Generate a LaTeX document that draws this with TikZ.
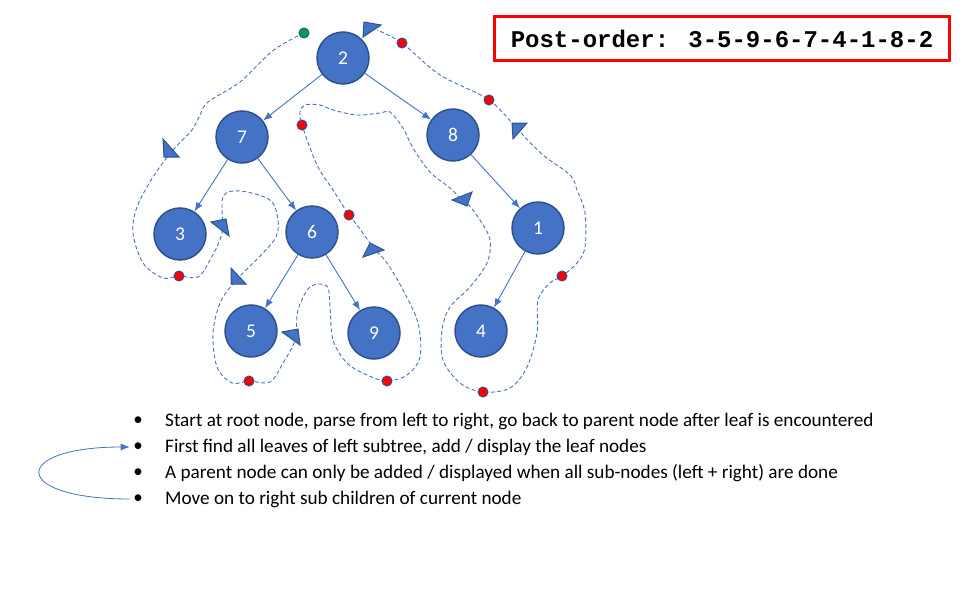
\documentclass[tikz,border=0pt]{standalone}
\usepackage{fontspec}
\setmainfont{Carlito}
\newfontfamily\monofont{Liberation Mono}
\usepackage{tikz}
\usetikzlibrary{arrows.meta}
\definecolor{nodeblue}{HTML}{4472C4}
\definecolor{nodeedge}{HTML}{2F528F}
\definecolor{startgreen}{HTML}{00A050}

\begin{document}
\begin{tikzpicture}[x=1pt,y=-1pt,>={Latex[length=9pt,width=7pt]},
  tnode/.style={circle,fill=nodeblue,draw=nodeedge,line width=1.5pt,minimum size=52pt,inner sep=0pt,text=white,font=\fontsize{19.5}{21}\selectfont},
  edge/.style={->,nodeblue,line width=0.9pt},
  trail/.style={nodeblue,line width=0.9pt,dash pattern=on 4pt off 2.5pt},
  dot/.style={circle,fill=red,draw=nodeedge,line width=1pt,minimum size=10pt,inner sep=0pt},
  marker/.style={fill=nodeblue,draw=nodeedge,line width=1pt,line join=miter},
  bullet/.style={font=\fontsize{19}{22}\selectfont},
  item/.style={anchor=west,inner sep=2pt,font=\fontsize{19.2}{22}\selectfont}]
  \useasboundingbox (0,0) rectangle (976,591);
  % traversal path
  \draw[trail] plot[smooth,tension=0.55] coordinates {(304,33) (290,40) (270,53) (240,82) (208,102) (200,115) (192,130) (173,150) (153,177) (137,207) (133,233) (143,263) (163,278) (179,276) (198,277) (210,260) (222,233) (223,197) (240,191) (270,200) (278,220) (276,237) (263,253) (243,273) (232,285) (220,303) (213,333) (217,367) (232,383) (249,381) (270,382) (283,363) (295,340) (298,310) (310,287) (327,286) (330,307) (333,340) (347,363) (367,375) (387,381) (407,375) (420,357) (418,323) (403,290) (387,263) (373,247) (357,225) (349,215) (333,190) (317,165) (302,125) (300,112) (305,105) (320,105) (333,110) (357,115) (380,113) (390,112) (403,128) (413,148) (430,172) (450,188) (460,198) (467,203) (480,220) (490,240) (487,263) (470,287) (450,307) (442,330) (443,360) (460,383) (483,392) (510,388) (527,367) (537,333) (538,300) (550,283) (562,276) (577,263) (585,247) (585,213) (577,190) (570,175) (543,155) (520,132) (489,100) (440,75) (402,43) (377,30)};
  % tree
  \node[tnode] (n2) at (343,58) {2};
  \node[tnode] (n7) at (242,137) {7};
  \node[tnode] (n8) at (453,135) {8};
  \node[tnode] (n3) at (180,234) {3};
  \node[tnode] (n6) at (312,232) {6};
  \node[tnode] (n1) at (538,228) {1};
  \node[tnode] (n5) at (251,331) {5};
  \node[tnode] (n9) at (374,333) {9};
  \node[tnode] (n4) at (481,331) {4};
  \draw[edge] (n2) -- (n7);
  \draw[edge] (n2) -- (n8);
  \draw[edge] (n7) -- (n3);
  \draw[edge] (n7) -- (n6);
  \draw[edge] (n6) -- (n5);
  \draw[edge] (n6) -- (n9);
  \draw[edge] (n8) -- (n1);
  \draw[edge] (n1) -- (n4);
  % direction marks
  \draw[marker] (163,139) -- (179,157) -- (164,157) -- cycle;
  \draw[marker] (211,222) -- (226,219) -- (229,236) -- cycle;
  \draw[marker] (231,268) -- (246,284) -- (231,284) -- cycle;
  \draw[marker] (282,332) -- (298,329) -- (300,345) -- cycle;
  \draw[marker] (363,257) -- (370,243) -- (384,250) -- cycle;
  \draw[marker] (452,200) -- (472,192) -- (467,206) -- cycle;
  \draw[marker] (512,123) -- (527,123) -- (513,139) -- cycle;
  \draw[marker] (364,22) -- (381,25) -- (363,37) -- cycle;
  % visit points
  \node[dot,fill=startgreen] (s0) at (304,33) {};
  \node[dot] (v3) at (179,276) {};
  \node[dot] (v5) at (249,381) {};
  \node[dot] (v9) at (387,381) {};
  \node[dot] (v6) at (349,215) {};
  \node[dot] (v7) at (302,125) {};
  \node[dot] (v4) at (483,392) {};
  \node[dot] (v1) at (562,276) {};
  \node[dot] (v8) at (489,100) {};
  \node[dot] (v2) at (402,43) {};
  % result
  \node[draw=red,line width=3pt,minimum width=455pt,minimum height=44pt,font=\monofont\bfseries\fontsize{24}{26}\selectfont] (po) at (722,39) {Post-order: 3-5-9-6-7-4-1-8-2};
  % notes
  \node[bullet] (b1) at (138,421) {\textbullet};
  \node[bullet] (b2) at (138,447) {\textbullet};
  \node[bullet] (b3) at (138,473) {\textbullet};
  \node[bullet] (b4) at (138,499) {\textbullet};
  \node[item] (t1) at (163,421) {Start at root node, parse from left to right, go back to parent node after leaf is encountered};
  \node[item] (t2) at (163,447) {First find all leaves of left subtree, add / display the leaf nodes};
  \node[item] (t3) at (163,473) {A parent node can only be added / displayed when all sub-nodes (left + right) are done};
  \node[item] (t4) at (163,499) {Move on to right sub children of current node};
  \draw[->,nodeblue,line width=0.8pt] (b4.west) .. controls (10,499) and (10,447) .. (b2.west);
\end{tikzpicture}
\end{document}
